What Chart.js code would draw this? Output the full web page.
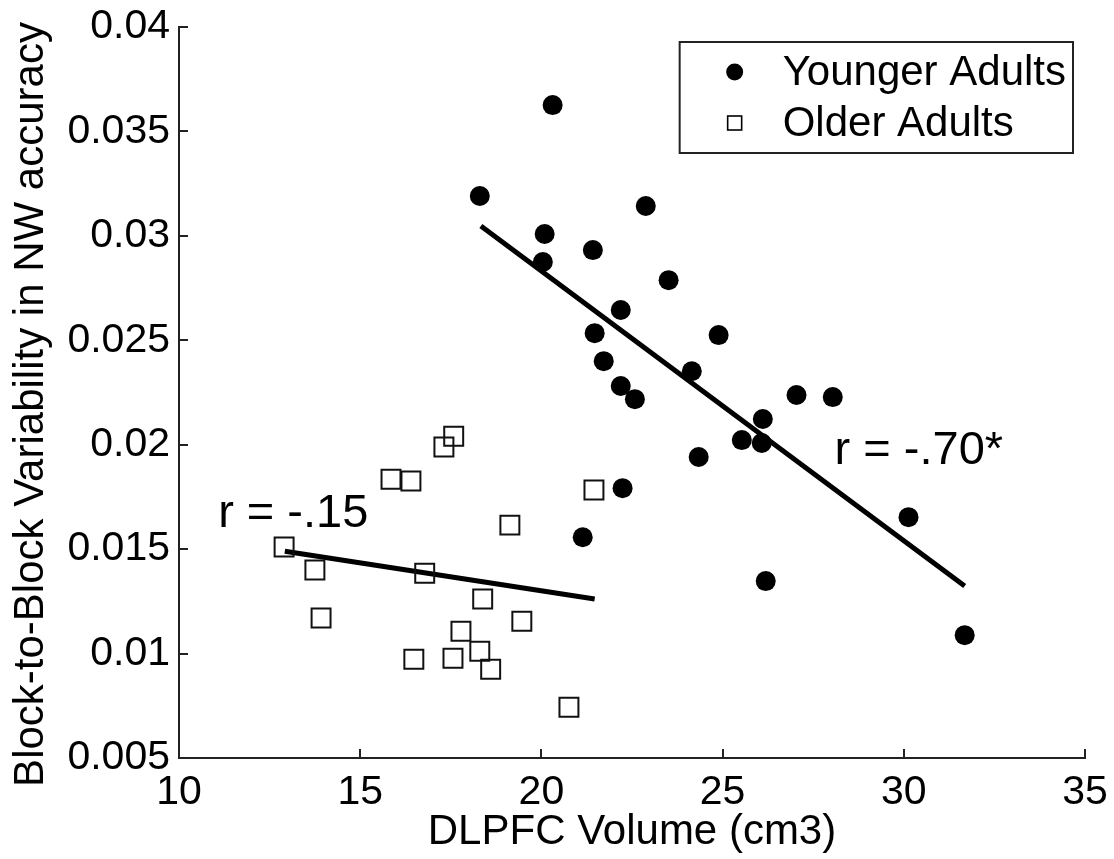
<!DOCTYPE html>
<html>
<head>
<meta charset="utf-8">
<script src="https://cdn.jsdelivr.net/npm/chart.js@4.4.1/dist/chart.umd.min.js"></script>
<style>
  html, body { margin: 0; padding: 0; background: #fff; }
  #wrap { width: 1114px; height: 859px; }
</style>
</head>
<body>
<div id="wrap"><canvas id="scatter" width="1114" height="859"></canvas></div>
<script>
// values
const youngVolume = [20.31, 18.30, 20.09, 20.04, 21.42, 22.88, 23.51, 21.47, 22.19, 21.72, 22.19, 22.58, 24.89,
  24.15, 27.04, 28.04, 26.11, 25.53, 26.08, 24.34, 22.24, 21.14, 30.13, 26.19, 31.68];
const youngVar = [0.03626, 0.03191, 0.03009, 0.02875, 0.02932, 0.03143, 0.02788, 0.02534, 0.02645, 0.0240, 0.02281,
  0.02218, 0.02525, 0.02352, 0.02238, 0.02228, 0.02123, 0.02022, 0.02008, 0.01941, 0.01792, 0.01557, 0.01653,
  0.01347, 0.01088];

const oldVolume = [12.90, 13.75, 13.92, 15.85, 16.40, 17.31, 17.58, 21.45, 19.13, 16.78, 18.38, 19.46, 17.78,
  18.30, 16.48, 17.56, 18.60, 20.76];
const oldVar = [0.01510, 0.0140, 0.01170, 0.01835, 0.01826, 0.01989, 0.02041, 0.01783, 0.01615, 0.01385, 0.01261,
  0.01155, 0.01107, 0.01011, 0.00973, 0.00978, 0.00925, 0.00743];

// fit lines (end points)
const youngFitX = [18.33, 31.68];
const youngFitY = [0.03047, 0.01323];
const oldFitX = [12.92, 21.47];
const oldFitY = [0.0149, 0.01261];

const xTicks = [10, 15, 20, 25, 30, 35];
const yTicks = [0.005, 0.01, 0.015, 0.02, 0.025, 0.03, 0.035, 0.04];
const yTickLabels = ['0.005', '0.01', '0.015', '0.02', '0.025', '0.03', '0.035', '0.04'];

const noteText = ['r = -.15', 'r = -.70*'];
const noteX = [11.08, 28.09];
const noteY = [0.01605, 0.01907];

const xTitle = 'DLPFC Volume (cm3)';
const yTitle = 'Block-to-Block Variability in NW accuracy';

const FONT = '"Liberation Sans", Arial, Helvetica, sans-serif';

const toPts = (xs, ys) => xs.map((x, i) => ({ x, y: ys[i] }));

// inward ticks, r-values, y title and the boxed legend
const matlabBits = {
  id: 'matlabBits',
  afterDraw(chart) {
    const { ctx, chartArea: a, scales: { x, y } } = chart;
    ctx.save();

    ctx.strokeStyle = '#222';
    ctx.lineWidth = 2;
    ctx.beginPath();
    xTicks.forEach(v => {
      const px = Math.round(x.getPixelForValue(v));
      ctx.moveTo(px, a.bottom);
      ctx.lineTo(px, a.bottom - 9);
    });
    yTicks.forEach(v => {
      const py = Math.round(y.getPixelForValue(v));
      ctx.moveTo(a.left, py);
      ctx.lineTo(a.left + 9, py);
    });
    ctx.stroke();

    ctx.fillStyle = '#000';
    ctx.font = '47px ' + FONT;
    ctx.textAlign = 'left';
    ctx.textBaseline = 'alphabetic';
    noteText.forEach((t, i) => ctx.fillText(t, x.getPixelForValue(noteX[i]), y.getPixelForValue(noteY[i])));

    // y title
    ctx.save();
    ctx.font = '42px ' + FONT;
    ctx.textAlign = 'center';
    ctx.textBaseline = 'middle';
    ctx.translate(31, (a.top + a.bottom) / 2 + 12);
    ctx.rotate(-Math.PI / 2);
    ctx.fillText(yTitle, 0, 0);
    ctx.restore();

    // legend
    ctx.font = '42px ' + FONT;
    const sets = chart.data.datasets.filter(d => d.inLegend);
    const textW = Math.max(...sets.map(d => ctx.measureText(d.label).width));
    const boxW = textW + 110;
    const boxH = 111;
    const bx = a.right - 12 - boxW;
    const by = a.top + 15;
    ctx.fillStyle = '#fff';
    ctx.fillRect(bx, by, boxW, boxH);
    ctx.strokeStyle = '#222';
    ctx.lineWidth = 2;
    ctx.strokeRect(bx, by, boxW, boxH);
    sets.forEach((d, i) => {
      const cy = by + 30 + i * 51;
      const mx = bx + 55;
      ctx.beginPath();
      if (d.pointStyle === 'circle') {
        ctx.arc(mx, cy, 8.5, 0, Math.PI * 2);
        ctx.fillStyle = '#000';
        ctx.fill();
      } else {
        ctx.lineWidth = 1.6;
        ctx.strokeStyle = '#000';
        ctx.strokeRect(mx - 7, cy - 7, 14, 14);
      }
      ctx.fillStyle = '#000';
      ctx.textAlign = 'left';
      ctx.textBaseline = 'middle';
      ctx.fillText(d.label, bx + 103, cy + 1);
    });

    ctx.restore();
  }
};

new Chart(document.getElementById('scatter'), {
  type: 'scatter',
  data: {
    datasets: [
      {
        label: 'Younger Adults', inLegend: true,
        data: toPts(youngVolume, youngVar),
        pointStyle: 'circle', pointRadius: 10,
        backgroundColor: '#000', borderWidth: 0
      },
      {
        label: 'Older Adults', inLegend: true,
        data: toPts(oldVolume, oldVar),
        pointStyle: 'rect', pointRadius: 13.4,
        backgroundColor: 'transparent', borderColor: '#111', borderWidth: 2
      },
      {
        label: 'young fit', data: toPts(youngFitX, youngFitY),
        showLine: true, pointRadius: 0, borderColor: '#000', borderWidth: 5
      },
      {
        label: 'old fit', data: toPts(oldFitX, oldFitY),
        showLine: true, pointRadius: 0, borderColor: '#000', borderWidth: 5
      }
    ]
  },
  options: {
    responsive: false,
    animation: false,
    layout: { padding: { top: 27, right: 29, left: 0, bottom: 0 } },
    plugins: { legend: { display: false }, tooltip: { enabled: false } },
    scales: {
      x: {
        min: 10, max: 35,
        // fixed axis box, no label overhang so the plot area matches the figure
        afterFit: s => { s.height = 101; s.paddingLeft = 0; s.paddingRight = 0; },
        afterBuildTicks: s => { s.ticks = xTicks.map(v => ({ value: v })); },
        grid: { drawOnChartArea: false, drawTicks: false },
        border: { display: true, color: '#222', width: 2 },
        ticks: { color: '#000', padding: 10, maxRotation: 0, font: { family: FONT, size: 41 } },
        title: {
          display: true, text: xTitle, color: '#000',
          font: { family: FONT, size: 42, lineHeight: 1 }, padding: { top: 0, bottom: 6 }
        }
      },
      y: {
        min: 0.005, max: 0.04,
        afterFit: s => { s.width = 179; s.paddingTop = 0; s.paddingBottom = 0; },
        afterBuildTicks: s => { s.ticks = yTicks.map(v => ({ value: v })); },
        grid: { drawOnChartArea: false, drawTicks: false },
        border: { display: true, color: '#222', width: 2 },
        ticks: {
          color: '#000', padding: 9, font: { family: FONT, size: 41 },
          callback: v => yTickLabels[yTicks.indexOf(v)]
        }
      }
    }
  },
  plugins: [matlabBits]
});
</script>
</body>
</html>
